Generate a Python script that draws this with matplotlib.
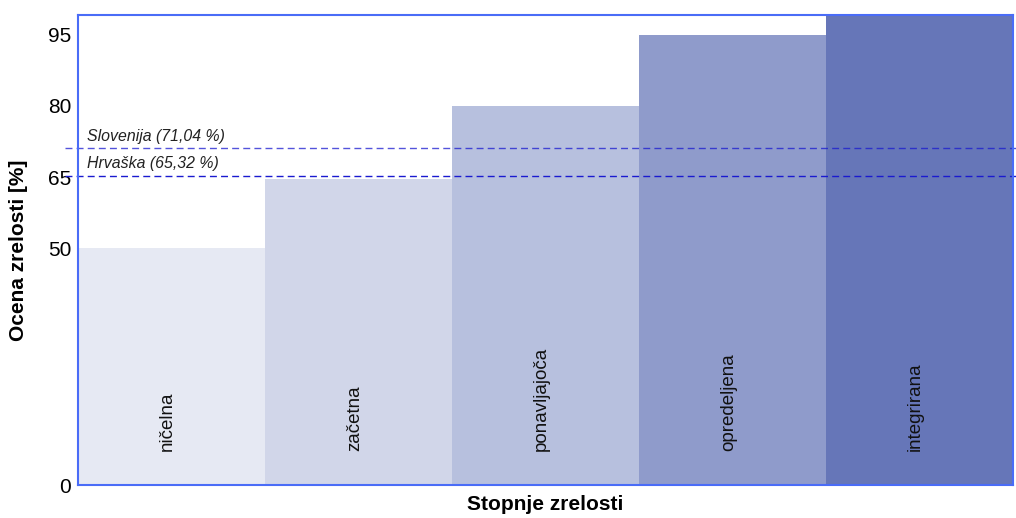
import matplotlib.pyplot as plt

plt.rcParams['font.family'] = ['Liberation Sans', 'DejaVu Sans']

stopnje = ['ničelna', 'začetna', 'ponavljajoča', 'opredeljena', 'integrirana']
ocene = [50, 64.5, 80, 95, 100]
barve = ['#e6e9f3', '#d1d6e9', '#b7c0de', '#8f9bcb', '#6676b8']
yticks = [0, 50, 65, 80, 95]

drzave = ['Slovenija', 'Hrvaška']
drzave_ocene = [71.04, 65.32]

fig = plt.figure(figsize=(10.16, 5.18), dpi=100)
ax = fig.add_axes([0.0768, 0.0637, 0.9202, 0.9073])

x = range(len(stopnje))
ax.bar(x, ocene, width=1.0, color=barve, zorder=1)

for i, name in enumerate(stopnje):
    ax.text(i - 0.02, 7.2, name, rotation=90, ha='center', va='bottom',
            fontsize=13.5, color='#111111', zorder=3)

for name, val, alpha in zip(drzave, drzave_ocene, [0.75, 1.0]):
    ax.axhline(val, xmin=-0.014, xmax=1.003, color='#1a1ad0', lw=1.0,
               ls=(0, (5, 3)), alpha=alpha, clip_on=False, zorder=2)
    ax.text(-0.45, val + 0.9, f'{name} ({val:.2f} %)'.replace('.', ','),
            fontsize=11.4, style='italic', color='#222222', va='bottom', zorder=3)

ax.set_xlim(-0.5, 4.5)
ax.set_ylim(0, 99.2)
ax.set_xticks([])
ax.set_yticks(yticks)
ax.tick_params(axis='y', length=0, labelsize=15, pad=5)

for s in ax.spines.values():
    s.set_color('#4a6cf7')
    s.set_linewidth(1.5)
    s.set_zorder(4)

ax.set_xlabel('Stopnje zrelosti', fontsize=15, fontweight='bold', labelpad=7)
ax.set_ylabel('Ocena zrelosti [%]', fontsize=15, fontweight='bold', labelpad=14)

fig.savefig('out.png', dpi=100)
